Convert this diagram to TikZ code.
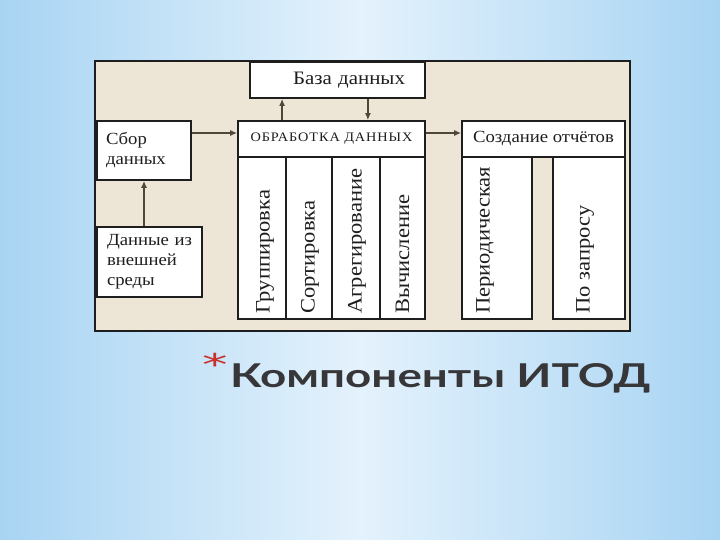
\documentclass[tikz,border=0pt]{standalone}
\usepackage{fontspec}
\setmainfont{Liberation Serif}[FakeStretch=1.1]
\newfontfamily\titlefont{Lato}
\newfontfamily\starfont{DejaVu Sans}
\usetikzlibrary{fadings,arrows.meta}
\definecolor{paper}{RGB}{237,230,214}
\definecolor{ink}{RGB}{30,30,30}
\definecolor{arrowink}{RGB}{80,70,60}
\definecolor{skyedge}{RGB}{168,212,243}
\definecolor{skymid}{RGB}{228,242,252}
\definecolor{titlegray}{RGB}{55,55,58}
\definecolor{starred}{RGB}{200,50,45}
\tikzfading[name=glowband, top color=transparent!100, middle color=transparent!35, bottom color=transparent!100]
\tikzset{
  box/.style={draw=ink, line width=1.8pt, fill=white, inner sep=0pt, text=ink, font=\fontsize{17}{20}\selectfont},
  coltext/.style={rotate=90, anchor=west, inner sep=0pt, text=ink, font=\fontsize{20.5}{20}\selectfont},
  arr/.style={->, draw=arrowink, line width=1.3pt},
}
\begin{document}
\begin{tikzpicture}[x=1pt, y=-1pt, >={Latex[length=7pt,width=6pt]}]
\useasboundingbox (0,0) rectangle (720,540);
% background of the slide
\shade[left color=skyedge, right color=skyedge, middle color=skymid] (0,0) rectangle (720,540);
\fill[white, path fading=glowband] (0,330) rectangle (720,430);
% panel
\draw[ink, line width=2.5pt, fill=paper] (95,61) rectangle (630,331);

\node[box, minimum width=175, minimum height=36, font=\fontsize{19}{20}\selectfont, text width=135, align=right] (baza) at (337.5,80) {База данных};
\node[box, minimum width=94, minimum height=59, align=left, text width=76] (sbor) at (144,150.5) {Сбор\\данных};
\node[box, minimum width=105, minimum height=70, align=left, text width=85] (dannye) at (149.5,262) {Данные из\\внешней\\среды};

% processing
\node[box, minimum width=187, minimum height=36, font=\fontsize{13}{14}\selectfont\addfontfeature{LetterSpace=7}] (obrhead) at (331.5,139) {ОБРАБОТКА ДАННЫХ};
\node[box, minimum width=48, minimum height=162] (grp) at (262,238) {};
\node[box, minimum width=46, minimum height=162] (sort) at (309,238) {};
\node[box, minimum width=48, minimum height=162] (agr) at (356,238) {};
\node[box, minimum width=45, minimum height=162] (vych) at (402.5,238) {};
\node[coltext] (grptxt) at ([xshift=3pt,yshift=6pt]grp.south) {Группировка};
\node[coltext] (sorttxt) at ([xshift=1pt,yshift=6pt]sort.south) {Сортировка};
\node[coltext] (agrtxt) at ([xshift=1pt,yshift=6pt]agr.south) {Агрегирование};
\node[coltext] (vychtxt) at ([yshift=6pt]vych.south) {Вычисление};

% reports
\node[box, minimum width=163, minimum height=36] (sozdhead) at (543.5,139) {Создание отчётов};
\node[box, minimum width=70, minimum height=162] (per) at (497,238) {};
\node[box, minimum width=72, minimum height=162] (zap) at (589,238) {};
\node[coltext] (pertxt) at ([xshift=-12pt,yshift=6pt]per.south) {Периодическая};
\node[coltext] (zaptxt) at ([xshift=-4pt,yshift=6pt]zap.south) {По запросу};

% connectors
\draw[arr] ([yshift=6pt]obrhead.west -| sbor.east) -- ([yshift=6pt]obrhead.west);
\draw[arr] ([yshift=6pt]obrhead.east) -- ([yshift=6pt]sozdhead.west);
\draw[arr] ([xshift=33pt]baza.south west |- obrhead.north) -- ([xshift=33pt]baza.south west);
\draw[arr] ([xshift=-58pt]baza.south east) -- ([xshift=-58pt]baza.south east |- obrhead.north);
\draw[arr] (dannye.north -| sbor.south) -- (sbor.south);

% title
\node[anchor=base, inner sep=0pt, text=starred, font=\fontsize{30}{30}\starfont] (star) at (215,375) {\scalebox{1.7}[1]{*}};
\node[anchor=base west, inner sep=0pt, text=titlegray] (title) at (230,387) {\resizebox{420pt}{24pt}{\titlefont\bfseries Компоненты ИТОД}};
\end{tikzpicture}
\end{document}
